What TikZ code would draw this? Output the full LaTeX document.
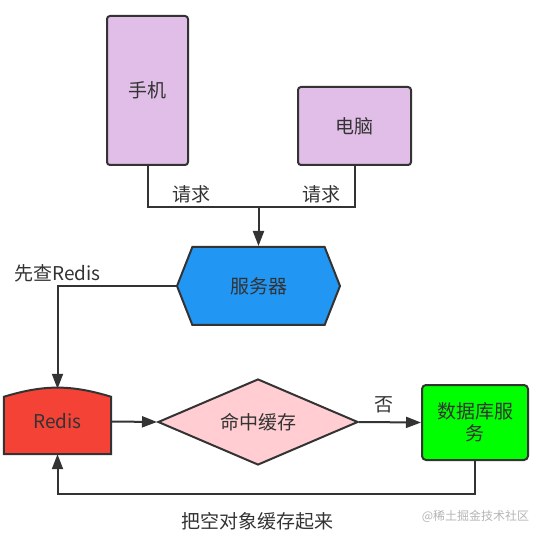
\documentclass[tikz,border=0pt]{standalone}
\usepackage{fontspec}
\setmainfont{Noto Sans CJK SC}
\usetikzlibrary{shapes.geometric,shapes.symbols,arrows.meta,backgrounds}
\definecolor{devicefill}{HTML}{E1BEE7}
\definecolor{servicefill}{HTML}{2196F3}
\definecolor{storefill}{HTML}{F44336}
\definecolor{decisionfill}{HTML}{FFCDD2}
\definecolor{processfill}{HTML}{00FF00}
\definecolor{linegray}{HTML}{333333}
\definecolor{markgray}{HTML}{B4B4B4}
\tikzstyle{device} = [rectangle, draw=linegray, line width=2pt, fill=devicefill, rounded corners=3pt, text centered]
\tikzstyle{service} = [signal, signal to=west and east, signal pointer angle=137, draw=linegray, line width=2pt, fill=servicefill, text centered, inner sep=0pt, minimum width=163pt, minimum height=78pt]
\tikzstyle{store} = [rectangle, inner sep=0pt, minimum width=107pt, minimum height=65pt, text centered]
\tikzstyle{decision} = [diamond, draw=linegray, line width=2pt, fill=decisionfill, inner sep=0pt, aspect=2.33, minimum width=200pt, minimum height=86pt, text centered]
\tikzstyle{process} = [rectangle, draw=linegray, line width=2pt, fill=processfill, rounded corners=4pt, align=center, minimum width=106pt, minimum height=75pt]
\tikzstyle{note} = [inner sep=1pt]
\tikzstyle{link} = [draw=linegray, line width=2pt]
\tikzstyle{connector} = [link, -{Triangle[length=15pt,width=11pt]}]

\begin{document}
\begin{tikzpicture}[x=1pt, y=-1pt, every node/.style={font=\fontsize{19pt}{22pt}\selectfont, text=linegray}]
        \useasboundingbox (0,0) rectangle (541,537);
        \node (phone) [device, minimum width=81pt, minimum height=149pt] at (147.5,90.5) {手机};
        \node (pc) [device, minimum width=113pt, minimum height=78pt] at (354.5,126) {电脑};
        \coordinate (join) at (258.5,207);
        \node (server) [service] at (258.5,286) {服务器};
        \node (redis) [store] at (57.5,421.5) {Redis};
        \node (hit) [decision] at (258,422) {命中缓存};
        \node (db) [process] at (475,422.5) {数据库服\\务};
        \node (mark) [text=markgray, font=\fontsize{12pt}{14pt}\selectfont] at (475.5,516) {@稀土掘金技术社区};
        \begin{pgfonlayer}{background}
            \draw [link, fill=storefill] (redis.south west) -- ([yshift=-8pt]redis.north west) to[bend left=17] ([yshift=-8pt]redis.north east) -- (redis.south east) -- cycle;
        \end{pgfonlayer}
        \draw [link] (phone.south) |- node[note, pos=0.7, above=2pt] {请求} (join);
        \draw [link] (pc.south) |- node[note, pos=0.67, above=2pt] {请求} (join);
        \draw [connector] (join) -- (server.north);
        \draw [connector] (server.west) -| node[note, pos=0.5, above=2pt] {先查Redis} (redis.north);
        \draw [connector] (redis.east) -- (hit.west);
        \draw [connector] (hit.east) -- node[note, pos=0.4, above=7pt] {否} (db.west);
        \draw [connector] (db.south) -- ++(0,33) -| node[note, pos=0.26, below=16pt] {把空对象缓存起来} (redis.south);
    \end{tikzpicture}
\end{document}
